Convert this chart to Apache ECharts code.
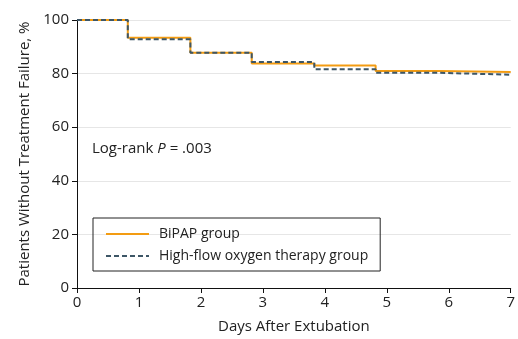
<!DOCTYPE html>
<html>
<head>
<meta charset="utf-8">
<script src="https://cdn.jsdelivr.net/npm/echarts@6/dist/echarts.min.js"></script>
<style>
  html, body { margin: 0; padding: 0; background: #fff; }
  #chart { width: 518px; height: 339px; }
</style>
</head>
<body>
<div id="chart"></div>
<script>
// Kaplan-Meier steps: day of each drop and the level reached after it
const stepDays = [0, 0.82, 1.83, 2.82, 3.83, 4.82, 5.82, 7];
const bipap    = [100, 93.4, 87.8, 83.8, 83.0, 81.0, 80.6, 80.6];
const highFlow = [100, 92.8, 87.8, 84.3, 81.6, 80.3, 79.6, 79.6];
const xTicks = [0, 7, 1];
const yTicks = [0, 100, 20];

const font = '"Open Sans", "Noto Sans", sans-serif';
const fs = 15;
const pairs = vals => stepDays.map((d, i) => [d, vals[i]]);

const chart = echarts.init(document.getElementById('chart'));
chart.setOption({
  animation: false,
  textStyle: { fontFamily: font },
  grid: { left: 77, right: 5, top: 20, bottom: 51 },
  xAxis: {
    type: 'value', min: xTicks[0], max: xTicks[1], interval: xTicks[2],
    name: 'Days After Extubation', nameLocation: 'middle', nameGap: 31,
    nameTextStyle: { fontSize: fs, color: '#222', fontFamily: font },
    axisLine: { lineStyle: { color: '#111' } },
    axisTick: { length: 5, lineStyle: { color: '#111' } },
    axisLabel: { fontSize: fs, color: '#222', margin: 7 },
    splitLine: { show: false }
  },
  yAxis: {
    type: 'value', min: yTicks[0], max: yTicks[1], interval: yTicks[2],
    name: 'Patients Without Treatment Failure, %', nameLocation: 'middle', nameGap: 40,
    nameTextStyle: { fontSize: fs, color: '#222', fontFamily: font },
    axisLine: { show: true, lineStyle: { color: '#111' } },
    axisTick: { show: true, length: 5, lineStyle: { color: '#111' } },
    axisLabel: { fontSize: fs, color: '#222', margin: 8 },
    splitLine: { lineStyle: { color: '#e6e6e6' } }
  },
  legend: {
    orient: 'vertical', left: 93, top: 218,
    itemWidth: 43, itemHeight: 14, itemGap: 8,
    padding: [9, 12, 8, 12],
    borderColor: '#222', borderWidth: 1,
    itemStyle: { opacity: 0 },
    textStyle: { fontSize: 14, color: '#222', fontFamily: font, padding: [0, 0, 0, 5] },
    data: ['BiPAP group', 'High-flow oxygen therapy group']
  },
  graphic: [{
    type: 'text', left: 92, top: 141,
    style: {
      text: 'Log-rank {i|P} = .003',
      font: fs + 'px ' + font, fill: '#222',
      rich: { i: { fontStyle: 'italic', fontSize: fs, fontFamily: font, fill: '#222' } }
    }
  }],
  series: [
    {
      name: 'BiPAP group', type: 'line', step: 'end', symbol: 'none',
      data: pairs(bipap),
      lineStyle: { color: '#f39c12', width: 2 },
      itemStyle: { color: '#f39c12' }
    },
    {
      name: 'High-flow oxygen therapy group', type: 'line', step: 'end', symbol: 'none',
      data: pairs(highFlow),
      lineStyle: { color: '#3d5666', width: 2, type: [5, 3] },
      itemStyle: { color: '#3d5666' }
    }
  ]
});
</script>
</body>
</html>
